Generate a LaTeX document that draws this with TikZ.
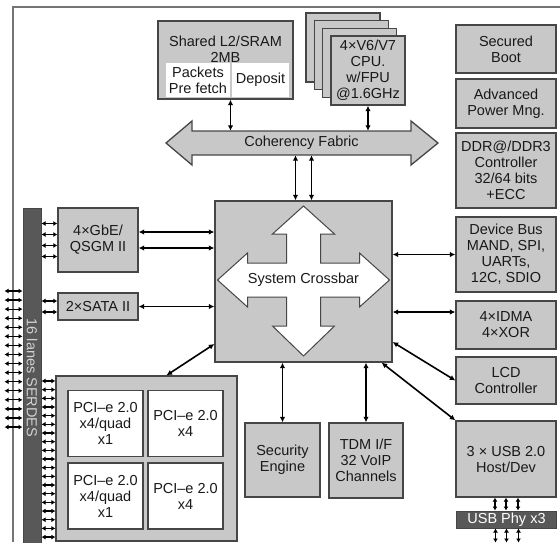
\documentclass[tikz,border=0pt]{standalone}
\usepackage{fontspec}
\setmainfont{Liberation Sans}
\usetikzlibrary{arrows.meta}

\definecolor{boxgray}{RGB}{200,200,200}
\definecolor{edgegray}{RGB}{70,70,70}
\definecolor{bargray}{RGB}{88,88,88}
\definecolor{txtgray}{RGB}{25,25,25}
\newcommand\boxfont{\fontsize{14.5}{16}\selectfont}

\begin{document}
\begin{tikzpicture}[x=1pt,y=-1pt,
  solid gray/.style={draw=edgegray,line width=1.3pt,fill=boxgray},
  blk/.style={solid gray,inner sep=0pt,align=center,text=txtgray,font=\boxfont},
  pcibox/.style={blk,fill=white,minimum width=75,minimum height=66},
  cell/.style={fill=white,inner sep=0pt,align=center,text=txtgray,font=\boxfont},
  rcol/.style={blk,minimum width=100},
  darkbar/.style={draw=edgegray,fill=bargray,line width=1pt,inner sep=0pt,font=\boxfont},
  label/.style={inner sep=0pt,align=center,text=txtgray,font=\boxfont},
  link/.style={{Latex[length=5.5pt,width=5.5pt]}-{Latex[length=5.5pt,width=5.5pt]},line width=1.6pt},
  lane/.style={{Latex[length=4pt,width=5pt]}-{Latex[length=4pt,width=5pt]},line width=1.2pt},
]
\useasboundingbox (0,0) rectangle (560,542);

% frame
\draw[edgegray!75,line width=1.2pt] (560,7) -- (13,7) -- (13,542);

% coherency fabric
\draw[solid gray] (166,143) -- (192,121) -- (192,131) -- (411,131) -- (411,121)
  -- (438,143) -- (411,165) -- (411,155) -- (192,155) -- (192,165) -- cycle;
\node[label,minimum width=219,minimum height=24] (fabric) at (301.5,143) {Coherency Fabric};

% shared L2
\node[blk,minimum width=135,minimum height=78] (l2) at (225.5,60) {};
\node[label] (l2text) at (225.5,49) {Shared L2/SRAM\\2MB};
\node[cell,minimum width=64,minimum height=34] (prefetch) at (198,80) {Packets\\Pre fetch};
\node[cell,minimum width=57,minimum height=34] (deposit) at (260.5,80) {Deposit};

% cpu stack
\foreach \i/\x/\y in {4/343/47.5, 3/351.3/55.2, 2/359.7/62.8}
  \node[blk,minimum width=74,minimum height=69] (cpu\i) at (\x,\y) {};
\node[blk,minimum width=74,minimum height=69] (cpu1) at (368,70.5) {4×V6/V7\\CPU.\\w/FPU\\@1.6GHz};

% right column
\node[rcol,minimum height=48] (boot) at (506,49) {Secured\\Boot};
\node[rcol,minimum height=49] (power) at (506,103.5) {Advanced\\Power Mng.};
\node[rcol,minimum height=75] (ddr) at (506,170.5) {DDR@/DDR3\\Controller\\32/64 bits\\+ECC};
\node[rcol,minimum height=75] (devbus) at (506,254.5) {Device Bus\\MAND, SPI,\\UARTs,\\12C, SDIO};
\node[rcol,minimum height=48] (idma) at (506,325) {4×IDMA\\4×XOR};
\node[rcol,minimum height=47] (lcd) at (506,380.5) {LCD\\Controller};
\node[rcol,minimum height=76] (usb) at (506,459) {3 × USB 2.0\\Host/Dev};
\node[darkbar,minimum width=100,minimum height=17,text=white] (usbphy) at (506.5,519.5) {USB Phy x3};

% crossbar
\node[blk,minimum width=177,minimum height=161] (xbar) at (303.5,281.5) {};
\draw[fill=white,draw=edgegray,line width=1pt,shift={(303.5,280)}]
  (0,-74) -- (31,-46) -- (17,-46) -- (17,-17) -- (56,-17) -- (56,-27) -- (86,0)
  -- (56,27) -- (56,17) -- (17,17) -- (17,46) -- (31,46) -- (0,76) -- (-31,46)
  -- (-17,46) -- (-17,17) -- (-56,17) -- (-56,27) -- (-86,0) -- (-56,-27)
  -- (-56,-17) -- (-17,-17) -- (-17,-46) -- (-31,-46) -- cycle;
\node[label] (xbartext) at (303.5,280) {System Crossbar};

% left side
\node[darkbar,minimum width=18,minimum height=337] (serdes) at (32,376.5) {};
\node[rotate=-90,inner sep=0pt,text=gray!35,font=\boxfont] (serdestext) at (32,378) {16 lanes SERDES};
\node[blk,minimum width=80,minimum height=64] (gbe) at (98,240) {4×GbE/\\QSGM II};
\node[blk,minimum width=80,minimum height=27] (sata) at (98,306.5) {2×SATA II};

% pci express
\node[blk,minimum width=181,minimum height=165] (pcie) at (146.5,458.5) {};
\node[pcibox] (pcie1) at (105.5,423.5) {PCI–e 2.0\\x4/quad\\x1};
\node[pcibox] (pcie2) at (185.5,423.5) {PCI–e 2.0\\x4};
\node[pcibox] (pcie3) at (105.5,496) {PCI–e 2.0\\x4/quad\\x1};
\node[pcibox] (pcie4) at (185.5,496) {PCI–e 2.0\\x4};

% bottom
\node[blk,minimum width=75,minimum height=74] (secur) at (282.5,460) {Security\\Engine};
\node[blk,minimum width=74,minimum height=75] (tdm) at (366,460.5) {TDM I/F\\32 VoIP\\Channels};

% links
\draw[link] ([xshift=5]l2.south) -- ([xshift=5]l2.south |- fabric.north);
\draw[link] (cpu1.south) -- (cpu1.south |- fabric.north);
\foreach \dx in {-8,8}
  \draw[link] ([xshift=\dx]xbar.north) -- ([xshift=\dx]xbar.north |- fabric.south);
\foreach \dy in {8,-8}
  \draw[link] ([yshift=\dy]gbe.east) -- ([yshift=\dy]gbe.east -| xbar.west);
\draw[link] (sata.east) -- (sata.east -| xbar.west);
\draw[link] ([yshift=-62.5]xbar.west) -- ([xshift=20]pcie.north);
\draw[link] (secur.north) -- (secur.north |- xbar.south);
\draw[link] (tdm.north) -- (tdm.north |- xbar.south);
\draw[link] (devbus.west) -- (devbus.west -| xbar.east);
\draw[link] ([yshift=13]idma.west) -- ([yshift=13]idma.west -| xbar.east);
\draw[link] ([yshift=-60.5]xbar.east) -- (lcd.west);
\draw[link] ([xshift=-11]xbar.south east) -- (usb.north west);

% lanes
\foreach \dy in {-16.5,-5.5,5.5,16.5}
  \draw[lane] ([yshift=\dy]gbe.west) -- ([yshift=\dy]gbe.west -| serdes.east);
\foreach \dy in {-5.5,5.5}
  \draw[lane] ([yshift=\dy]sata.west) -- ([yshift=\dy]sata.west -| serdes.east);
\foreach \i [evaluate=\i as \y using 381+8.67*\i] in {0,...,18}
  \draw[lane] (pcie.west |- 0,\y) -- (serdes.east |- 0,\y);
\foreach \i [evaluate=\i as \y using 291+9.07*\i] in {0,...,15}
  \draw[lane] (serdes.west |- 0,\y) -- ++(-18,0);
\foreach \dx in {-11,0,12} {
  \draw[lane] ([xshift=\dx]usb.south) -- ([xshift=\dx]usb.south |- usbphy.north);
  \draw[lane] ([xshift=\dx]usbphy.south) -- ++(0,14);
}
\end{tikzpicture}
\end{document}
